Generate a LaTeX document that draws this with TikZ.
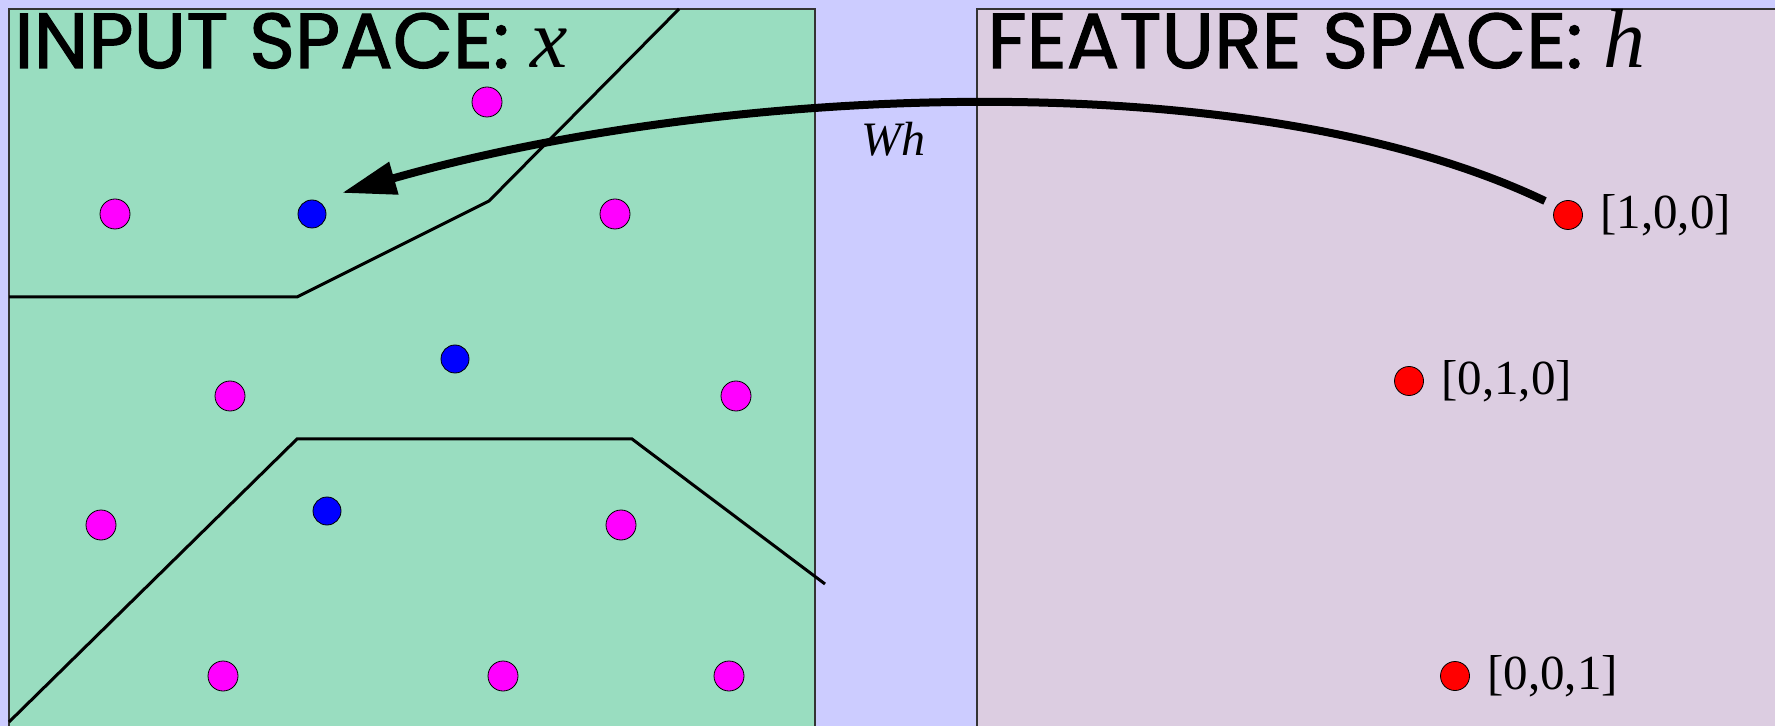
\documentclass[tikz,border=0pt]{standalone}
\usepackage{fontspec}
\setmainfont{Liberation Serif}
\newfontfamily\titlefont{Poppins}[FakeBold=1.5]
\usetikzlibrary{arrows.meta}
\definecolor{bgcol}{HTML}{CCCCFF}
\definecolor{inpanel}{HTML}{99DDC0}
\definecolor{featpanel}{HTML}{DCCDE1}
\definecolor{magcol}{HTML}{FF00FF}
\definecolor{bluecol}{HTML}{0000FF}
\definecolor{redcol}{HTML}{FF0000}
\tikzset{
  panel/.style={draw=black!80, line width=0.6pt},
  dotm/.style={circle, draw=black, line width=0.4pt, fill=magcol, inner sep=0pt, minimum size=15pt},
  dotb/.style={circle, draw=black, line width=0.4pt, fill=bluecol, inner sep=0pt, minimum size=14pt},
  dotr/.style={circle, draw=black, line width=0.4pt, fill=redcol, inner sep=0pt, minimum size=14.5pt},
  bound/.style={line width=1.5pt, black},
  title/.style={anchor=base west, inner sep=0pt, font=\titlefont\fontsize{39}{44}\selectfont},
  vec/.style={anchor=west, inner sep=0pt, font=\fontsize{24.5}{28}\selectfont},
  maparrow/.style={line width=4pt, -{Triangle[length=27pt,width=16pt]}}
}
\newcommand{\mvar}[1]{{\rmfamily\itshape\fontsize{42}{46}\selectfont #1}}
\begin{document}
\begin{tikzpicture}[x=0.5pt,y=-0.5pt]
\useasboundingbox[fill=bgcol] (0,0) rectangle (1775,726);
% panels
\path[panel, fill=inpanel] (9,9) rectangle (815,745);
\path[panel, fill=featpanel] (977,9) rectangle (1795,745);
% titles
\node[title] (t1) at (14,68) {INPUT SPACE: \mvar{x}};
\node[title] (t2) at (987,68) {FEATURE SPACE: \mvar{h}};
% decision boundaries
\coordinate (a1) at (679,9);
\coordinate (a2) at (489,201);
\coordinate (a3) at (297,297);
\coordinate (a4) at (9,297);
\draw[bound] (a1) -- (a2) -- (a3) -- (a4);
\coordinate (b1) at (9,722);
\coordinate (b2) at (297,439);
\coordinate (b3) at (632,439);
\coordinate (b4) at (825,584);
\draw[bound] (b1) -- (b2) -- (b3) -- (b4);
% magenta points
\node[dotm] (m1) at (487,102) {};
\node[dotm] (m2) at (115,214) {};
\node[dotm] (m3) at (615,214) {};
\node[dotm] (m4) at (230,396) {};
\node[dotm] (m5) at (736,396) {};
\node[dotm] (m6) at (101,525) {};
\node[dotm] (m7) at (621,525) {};
\node[dotm] (m8) at (223,676) {};
\node[dotm] (m9) at (503,676) {};
\node[dotm] (m10) at (729,676) {};
% blue points
\node[dotb] (u1) at (312,214) {};
\node[dotb] (u2) at (455,359) {};
\node[dotb] (u3) at (327,511) {};
% red points
\node[dotr] (r1) at (1568,215) {};
\node[dotr] (r2) at (1409,381) {};
\node[dotr] (r3) at (1455,676) {};
\node[vec] (l1) at (1600,215) {[1,0,0]};
\node[vec] (l2) at (1441,381) {[0,1,0]};
\node[vec] (l3) at (1487,676) {[0,0,1]};
% mapping arrow
\coordinate (s) at (1545,201);
\coordinate (e) at (342,193);
\draw[maparrow] (s) .. controls (1250,60) and (720,85) .. (e);
\node[inner sep=0pt, font=\fontsize{24}{28}\selectfont\itshape] (wh) at (893,139) {Wh};
\end{tikzpicture}
\end{document}
